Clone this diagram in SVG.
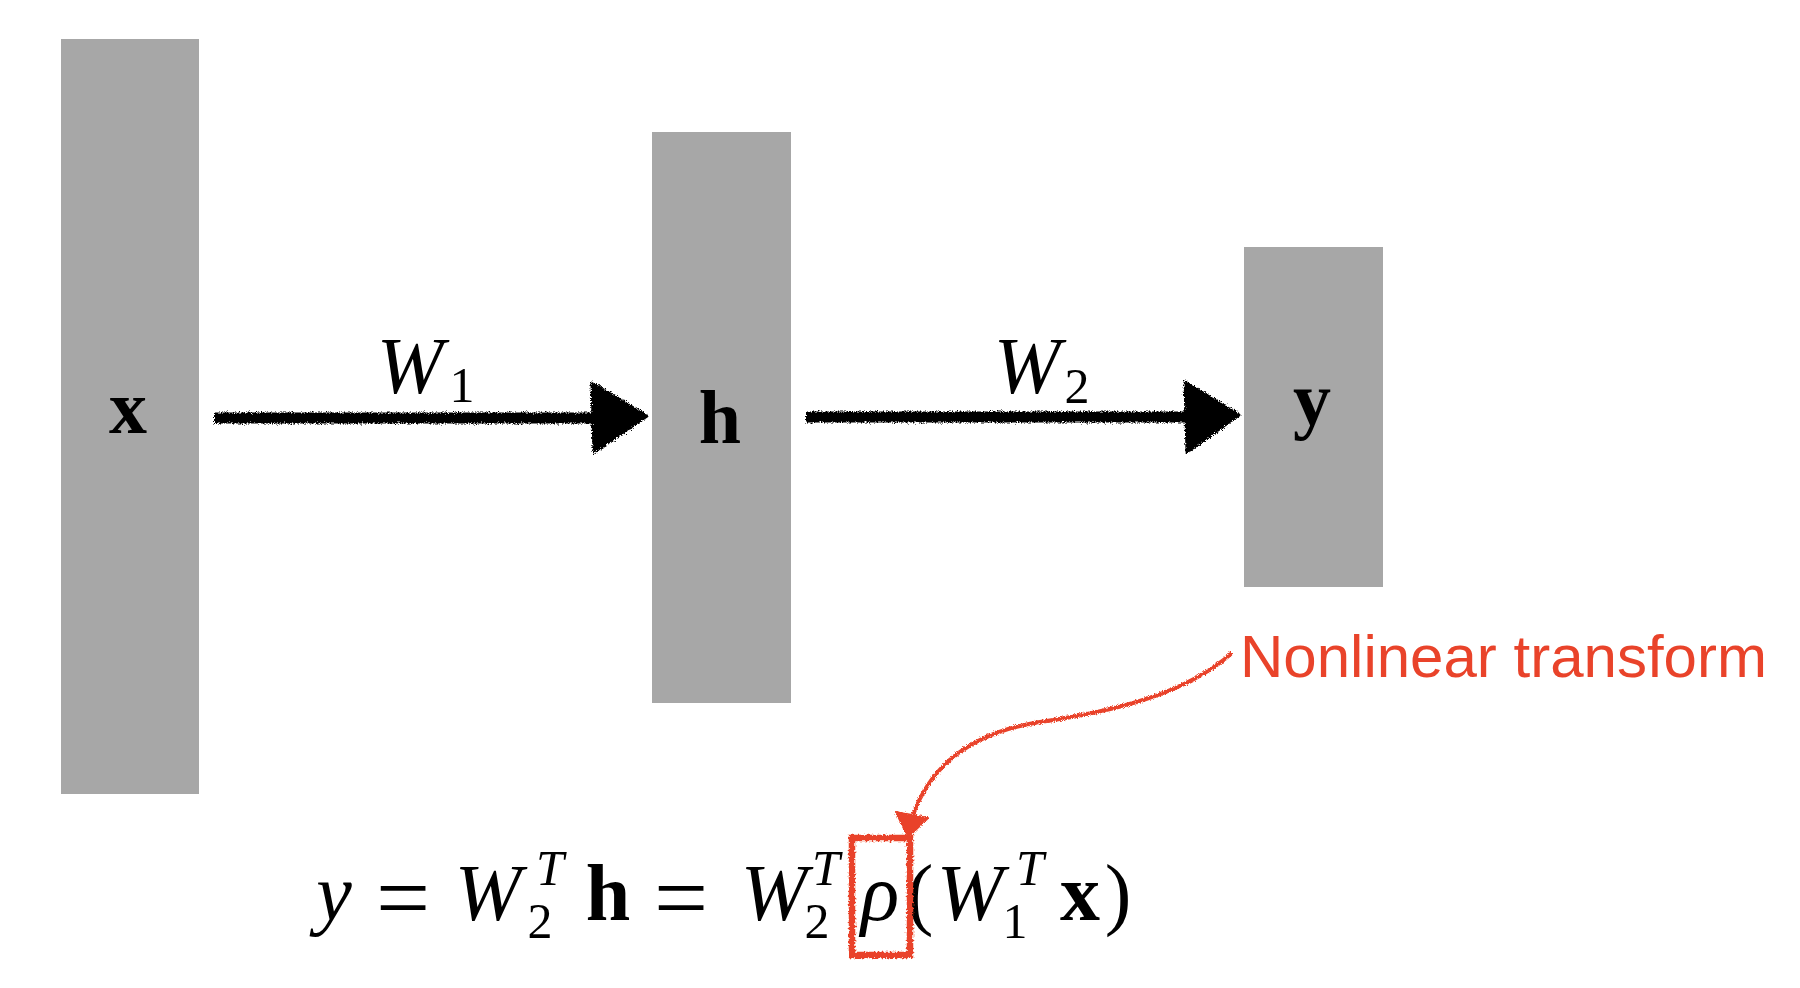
<svg xmlns="http://www.w3.org/2000/svg" width="1800" height="988" viewBox="0 0 1800 988">
  <style>
    .layer { fill: #A7A7A7; }
    .bold { font-family: "Liberation Serif", "DejaVu Serif", serif; font-weight: bold; font-size: 76px; fill: #000; text-anchor: middle; }
    .it { font-family: "Liberation Serif", "DejaVu Serif", serif; font-style: italic; font-size: 80px; fill: #000; text-anchor: middle; }
    .rm { font-family: "Liberation Serif", "DejaVu Serif", serif; font-size: 80px; fill: #000; text-anchor: middle; }
    .eq { font-family: "Liberation Serif", "DejaVu Serif", serif; font-size: 96px; fill: #000; text-anchor: middle; }
    .sub { font-family: "Liberation Serif", "DejaVu Serif", serif; font-size: 50px; fill: #000; text-anchor: middle; }
    .subit { font-family: "Liberation Serif", "DejaVu Serif", serif; font-style: italic; font-size: 50px; fill: #000; text-anchor: middle; }
    .arrow { stroke: #000; stroke-width: 11; fill: none; }
    .head { fill: #000; stroke: #000; stroke-width: 3; stroke-linejoin: round; }
    .red { stroke: #E9432A; fill: none; }
    .redfill { fill: #E9432A; stroke: #E9432A; stroke-width: 2; stroke-linejoin: round; }
    .note { font-family: "Liberation Sans", Arial, sans-serif; font-size: 60px; fill: #E9432A; }
  </style>
  <defs>
    <filter id="rough" x="-5%" y="-20%" width="110%" height="140%">
      <feTurbulence type="fractalNoise" baseFrequency="1.3" numOctaves="2" seed="3" result="n"/>
      <feDisplacementMap in="SourceGraphic" in2="n" scale="6" xChannelSelector="R" yChannelSelector="G"/>
    </filter>
    <filter id="roughR" x="-10%" y="-10%" width="120%" height="120%">
      <feTurbulence type="fractalNoise" baseFrequency="0.9" numOctaves="2" seed="7" result="n"/>
      <feDisplacementMap in="SourceGraphic" in2="n" scale="4" xChannelSelector="R" yChannelSelector="G"/>
    </filter>
    <filter id="roughBox" x="-20%" y="-10%" width="140%" height="120%">
      <feTurbulence type="fractalNoise" baseFrequency="0.5" numOctaves="2" seed="11" result="n"/>
      <feDisplacementMap in="SourceGraphic" in2="n" scale="5" xChannelSelector="R" yChannelSelector="G"/>
    </filter>
  </defs>

  <g id="node-x">
    <rect class="layer" x="61" y="39" width="138" height="755"/>
    <text class="bold" x="128" y="433">x</text>
  </g>

  <g id="node-h">
    <rect class="layer" x="652" y="132" width="139" height="571"/>
    <text class="bold" x="720" y="443">h</text>
  </g>

  <g id="node-y">
    <rect class="layer" x="1244" y="247" width="139" height="340"/>
    <text class="bold" x="1312" y="425">y</text>
  </g>

  <g id="connectors">
    <g id="edge-x-h" filter="url(#rough)">
      <line class="arrow" x1="214" y1="418" x2="598" y2="418"/>
      <polygon class="head" points="592,383 647,416 594,452"/>
    </g>
    <g id="label-W1">
      <text class="it" x="410" y="393">W</text>
      <text class="sub" x="462" y="402">1</text>
    </g>
    <g id="edge-h-y" filter="url(#rough)">
      <line class="arrow" x1="806" y1="417" x2="1190" y2="417"/>
      <polygon class="head" points="1185,382 1239,415 1187,452"/>
    </g>
    <g id="label-W2">
      <text class="it" x="1027" y="393">W</text>
      <text class="sub" x="1077" y="403">2</text>
    </g>
    <g id="edge-note" filter="url(#roughR)">
      <path class="red" stroke-width="4" d="M1232,653 C1185,695 1110,712 1040,722 C975,732 932,762 913,815"/>
      <polygon class="redfill" points="896,812 928,818 908,837"/>
    </g>
  </g>

  <g id="note">
    <text class="note" x="1240" y="677">Nonlinear transform</text>
  </g>

  <g id="formula">
    <text class="it" x="334" y="920">y</text>
    <text class="eq" x="403" y="930">=</text>
    <text class="it" x="488" y="920">W</text>
    <text class="subit" x="550" y="885">T</text>
    <text class="sub" x="540" y="938">2</text>
    <text class="bold" x="608" y="920" style="font-size:80px">h</text>
    <text class="eq" x="681" y="930">=</text>
    <text class="it" x="774" y="920">W</text>
    <text class="subit" x="826" y="885">T</text>
    <text class="sub" x="817" y="938">2</text>
    <text class="it" x="880" y="920">ρ</text>
    <text class="rm" x="920" y="920">(</text>
    <text class="it" x="970" y="920">W</text>
    <text class="subit" x="1030" y="885">T</text>
    <text class="sub" x="1015" y="938">1</text>
    <text class="bold" x="1080" y="920" style="font-size:80px">x</text>
    <text class="rm" x="1118" y="920">)</text>
  </g>

  <g id="highlight" filter="url(#roughBox)">
    <rect class="red" stroke-width="6.5" x="852" y="838" width="58" height="117"/>
  </g>
</svg>
